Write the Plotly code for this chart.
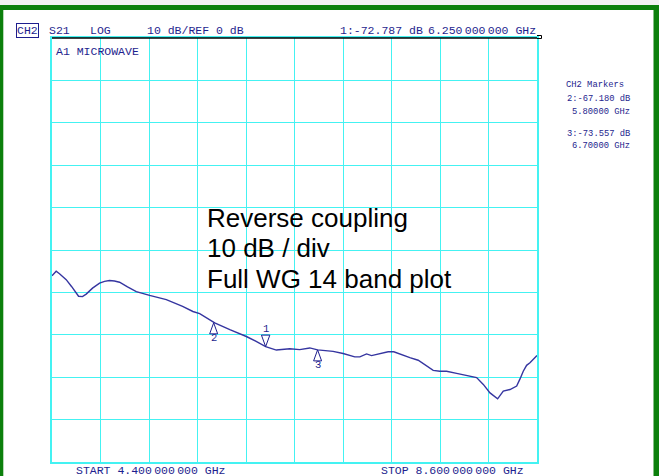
import plotly.graph_objects as go

# ---- data ----
freq_ghz = [4.400, 4.436, 4.465, 4.523, 4.569, 4.630, 4.664, 4.696, 4.751, 4.812,
            4.855, 4.898, 4.941, 4.985, 5.054, 5.130, 5.245, 5.390, 5.531, 5.620,
            5.679, 5.809, 5.940, 6.083, 6.164, 6.250, 6.343, 6.398, 6.459, 6.545,
            6.632, 6.700, 6.762, 6.834, 6.921, 7.022, 7.066, 7.124, 7.167, 7.239,
            7.311, 7.360, 7.427, 7.499, 7.571, 7.644, 7.701, 7.759, 7.817, 7.904,
            7.991, 8.077, 8.135, 8.193, 8.259, 8.308, 8.366, 8.424, 8.453, 8.481,
            8.510, 8.539, 8.600]
s21_db = [-56.1, -55.0, -55.6, -57.0, -58.6, -60.9, -61.0, -60.4, -59.0, -57.8,
          -57.4, -57.2, -57.3, -57.6, -58.7, -59.8, -60.7, -61.7, -63.3, -64.5,
          -65.0, -67.2, -68.8, -70.4, -71.5, -72.8, -73.6, -73.5, -73.3, -73.5,
          -73.1, -73.56, -73.7, -73.9, -74.4, -75.2, -75.2, -74.5, -74.9, -74.4,
          -74.0, -74.0, -74.7, -75.4, -76.0, -77.4, -78.4, -78.6, -78.6, -79.1,
          -79.6, -80.1, -81.7, -83.7, -85.1, -83.3, -82.9, -82.1, -80.4, -78.6,
          -77.2, -76.6, -74.9]

marker_ids = ["1", "2", "3"]
marker_freq = [6.25, 5.80, 6.70]
marker_db = [-72.787, -67.18, -73.557]
marker_dir = ["down", "up", "up"]

x_start, x_stop = 4.4, 8.6
ref_db, db_per_div, n_div = 0, 10, 10

header_items = ["S21", "LOG", "10 dB/REF 0 dB"]
active_marker_text = "1:-72.787 dB"
active_marker_freq = "6.250\u2009000\u2009000 GHz"
start_text = "START 4.400\u2009000\u2009000 GHz"
stop_text = "STOP 8.600\u2009000\u2009000 GHz"
overlay_lines = ["Reverse coupling", "10 dB / div", "Full WG 14 band plot"]
panel_lines = ["2:-67.180 dB", "5.80000 GHz", "3:-73.557 dB", "6.70000 GHz"]

# ---- layout geometry ----
FW, FH = 659, 476
L, T, W, H = 52, 38, 485, 424
R, B = FW - L - W, FH - T - H

def PX(x):
    return (x - L) / W

def PY(y):
    return 1 - (y - T) / H

NAVY = "#1e1e8e"
GRID = "#44f2f2"
GREEN = "#0c800c"
MONO = "Liberation Mono, DejaVu Sans Mono, monospace"

fig = go.Figure()
fig.add_trace(go.Scatter(x=freq_ghz, y=s21_db, mode="lines",
                         line=dict(color="#3535a0", width=1.4),
                         hoverinfo="skip", showlegend=False))

ann = []

def text(x, y, s, size=11.5, anchor="left", color=NAVY, font=MONO, **kw):
    ann.append(dict(x=PX(x), y=PY(y), xref="paper", yref="paper", text=s,
                    showarrow=False, xanchor=anchor, yanchor="middle",
                    borderpad=0, font=dict(family=font, size=size, color=color), **kw))

# header
text(16, 30.5, "CH2", bordercolor=NAVY, borderwidth=1)
text(48, 30.5, header_items[0])
text(89, 30.5, header_items[1])
text(145.5, 30.5, header_items[2])
text(339, 30.5, active_marker_text)
text(537, 30.5, active_marker_freq, anchor="right")
text(55, 51.5, "A1 MICROWAVE")
text(75, 470, start_text)
text(525, 470, stop_text, anchor="right")

# right panel
text(565, 85, "CH2 Markers", size=8.8)
text(631, 99.3, panel_lines[0], size=8.8, anchor="right")
text(631, 111.5, panel_lines[1], size=8.8, anchor="right")
text(631, 134, panel_lines[2], size=8.8, anchor="right")
text(631, 145.7, panel_lines[3], size=8.8, anchor="right")

# overlay note
for i, (s, yc) in enumerate(zip(overlay_lines, [217.5, 248.3, 279.0])):
    text(205.5, yc, s, size=26, color="#000000",
         font="Liberation Sans, Arial, sans-serif")

shapes = []
# markers
for mid, mf, md, dr in zip(marker_ids, marker_freq, marker_db, marker_dir):
    if dr == "down":
        path = "M -4.2,11.5 L 4.2,11.5 L 0,0 Z"
        ys = 17.5
    else:
        path = "M -4,-11 L 4,-11 L 0,0 Z"
        ys = -15
    shapes.append(dict(type="path", xref="x", yref="y", xsizemode="pixel",
                       ysizemode="pixel", xanchor=mf, yanchor=md, path=path,
                       line=dict(color=NAVY, width=1)))
    ann.append(dict(x=mf, y=md, xref="x", yref="y", text=mid, showarrow=False,
                    yshift=ys, xanchor="center", yanchor="middle",
                    font=dict(family=MONO, size=10.5, color=NAVY)))

# top black border of the graticule
shapes.append(dict(type="line", xref="paper", yref="paper", x0=0, x1=1, y0=1, y1=1,
                   line=dict(color="#000000", width=1.5)))
# small reference-level pointer at the right end of the top border
shapes.append(dict(type="path", xref="paper", yref="paper",
                   path=(f"M {PX(537)},{PY(35.5)} L {PX(541.5)},{PY(35.5)} "
                         f"L {PX(541.5)},{PY(38.5)} L {PX(537)},{PY(38.5)}"),
                   line=dict(color="#000000", width=1)))
# green instrument frame
shapes.append(dict(type="rect", xref="paper", yref="paper", x0=PX(0), x1=PX(FW),
                   y0=PY(5), y1=PY(0), line=dict(width=0), fillcolor="#f2f2f2"))
shapes.append(dict(type="rect", xref="paper", yref="paper", x0=PX(0), x1=PX(FW),
                   y0=PY(10), y1=PY(5), line=dict(width=0), fillcolor=GREEN))
shapes.append(dict(type="rect", xref="paper", yref="paper", x0=PX(0), x1=PX(3.3),
                   y0=PY(FH), y1=PY(5), line=dict(width=0), fillcolor=GREEN))
shapes.append(dict(type="rect", xref="paper", yref="paper", x0=PX(653.5), x1=PX(FW),
                   y0=PY(FH), y1=PY(5), line=dict(width=0), fillcolor=GREEN))

fig.update_layout(
    width=FW, height=FH,
    margin=dict(l=L, r=R, t=T, b=B, pad=0),
    paper_bgcolor="white", plot_bgcolor="white",
    annotations=ann, shapes=shapes, showlegend=False,
    xaxis=dict(range=[x_start, x_stop], tick0=x_start, dtick=(x_stop - x_start) / n_div,
               showgrid=True, gridcolor=GRID, gridwidth=1.3, zeroline=False,
               showticklabels=False, ticks="", showline=True, linecolor=GRID,
               linewidth=1.5, mirror=True, fixedrange=True),
    yaxis=dict(range=[ref_db - db_per_div * n_div, ref_db], tick0=ref_db, dtick=db_per_div,
               showgrid=True, gridcolor=GRID, gridwidth=1.3, zeroline=False,
               showticklabels=False, ticks="", showline=True, linecolor=GRID,
               linewidth=1.5, mirror=True, fixedrange=True),
)

fig.write_html("out.html", config={"displayModeBar": False},
               post_script="document.body.style.margin='0';document.body.style.overflow='hidden';")
